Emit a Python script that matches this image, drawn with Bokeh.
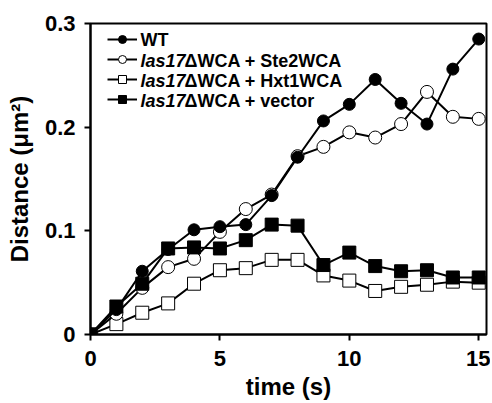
from bokeh.plotting import figure
from bokeh.models import Range1d, FixedTicker, Legend, LegendItem, Label
from bokeh.embed import file_html
from bokeh.resources import INLINE

time_s = list(range(16))
wt = [0, 0.024, 0.061, 0.082, 0.101, 0.104, 0.106, 0.134, 0.171, 0.206, 0.222, 0.246, 0.223, 0.203, 0.256, 0.285]
ste2 = [0, 0.020, 0.045, 0.065, 0.073, 0.099, 0.121, 0.135, 0.172, 0.181, 0.195, 0.190, 0.203, 0.234, 0.210, 0.208]
hxt1 = [0, 0.010, 0.021, 0.030, 0.049, 0.062, 0.064, 0.072, 0.072, 0.057, 0.052, 0.042, 0.046, 0.048, 0.051, 0.050]
vector = [0, 0.027, 0.049, 0.083, 0.084, 0.083, 0.091, 0.106, 0.105, 0.067, 0.079, 0.066, 0.061, 0.062, 0.055, 0.055]

x_ticks = [0, 5, 10, 15]
y_ticks = [0, 0.1, 0.2, 0.3]
y_tick_labels = {0: "0", 0.1: "0.1", 0.2: "0.2", 0.3: "0.3"}
legend_italic = ["", "las17", "las17", "las17"]
legend_bold = ["WT", "\u0394WCA + Ste2WCA", "\u0394WCA + Hxt1WCA", "\u0394WCA + vector"]

FONT = "Liberation Sans"

W, H = 490, 402
FL, FR, FT, FB = 90, 486, 23, 334

p = figure(width=W, height=H, output_backend="svg", toolbar_location=None,
           x_range=Range1d(0, 15.3), y_range=Range1d(0, 0.3),
           min_border_left=FL, min_border_right=W - FR, min_border_top=FT, min_border_bottom=H - FB)
p.xgrid.visible = False
p.ygrid.visible = False
p.outline_line_color = "black"
p.outline_line_width = 2
p.outline_line_alpha = 1

for ax in (p.xaxis[0], p.yaxis[0]):
    ax.axis_line_width = 2
    ax.major_tick_line_width = 2
    ax.major_tick_in = 0
    ax.major_tick_out = 6
    ax.minor_tick_line_color = None
    ax.major_label_text_font = FONT
    ax.major_label_text_font_style = "bold"
    ax.major_label_text_font_size = "22px"
    ax.major_label_text_color = "black"
    ax.axis_label_text_font = FONT
    ax.axis_label_text_font_style = "bold"
    ax.axis_label_text_font_size = "24px"
    ax.axis_label_text_color = "black"

p.xaxis.ticker = FixedTicker(ticks=x_ticks)
p.yaxis.ticker = FixedTicker(ticks=y_ticks)
p.yaxis.major_label_overrides = y_tick_labels
p.xaxis.axis_label = "time (s)"
p.yaxis.axis_label = "Distance (\u03bcm\u00b2)"
p.xaxis.major_label_standoff = 10
p.yaxis.major_label_standoff = 9
p.xaxis.axis_label_standoff = 4
p.yaxis.axis_label_standoff = 9

lw = 2
ms = 13
r_h_l = p.line(time_s, hxt1, line_color="black", line_width=lw)
r_h_m = p.scatter(time_s, hxt1, marker="square", size=ms, fill_color="white", line_color="black", line_width=1)
r_s_l = p.line(time_s, ste2, line_color="black", line_width=lw)
r_s_m = p.scatter(time_s, ste2, marker="circle", size=ms, fill_color="white", line_color="black", line_width=1)
r_v_l = p.line(time_s, vector, line_color="black", line_width=lw)
r_v_m = p.scatter(time_s, vector, marker="square", size=ms, fill_color="black", line_color="black")
r_w_l = p.line(time_s, wt, line_color="black", line_width=lw)
r_w_m = p.scatter(time_s, wt, marker="circle", size=12, fill_color="black", line_color="black")

items = [
    LegendItem(label=" ", renderers=[r_w_l, r_w_m]),
    LegendItem(label=" ", renderers=[r_s_l, r_s_m]),
    LegendItem(label=" ", renderers=[r_h_l, r_h_m]),
    LegendItem(label=" ", renderers=[r_v_l, r_v_m]),
]
legend = Legend(items=items, location=(17, 225), glyph_width=30, glyph_height=20,
                spacing=0, padding=0, margin=0, label_width=0, label_standoff=0,
                border_line_color=None, background_fill_alpha=0, label_text_font_size="1px")
p.add_layout(legend)

px_per_x = (FR - FL) / 15.3
px_per_y = (FB - FT) / 0.3
row_y = [39, 60, 80, 100]
for i in range(4):
    yd = (FB - row_y[i]) / px_per_y
    x_it = (140 - FL) / px_per_x
    if legend_italic[i]:
        p.add_layout(Label(x=x_it, y=yd, text=legend_italic[i], text_font=FONT,
                           text_font_style="bold italic", text_font_size="18px",
                           text_baseline="middle", text_color="black"))
        x_b = (184 - FL) / px_per_x
    else:
        x_b = x_it
    p.add_layout(Label(x=x_b, y=yd, text=legend_bold[i], text_font=FONT,
                       text_font_style="bold", text_font_size="18px",
                       text_baseline="middle", text_color="black"))

open("out.html", "w").write(file_html(p, INLINE))
